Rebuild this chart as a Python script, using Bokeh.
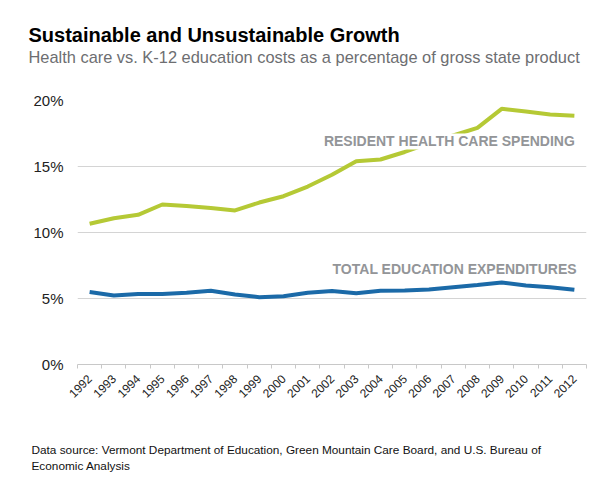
import numpy as np
from bokeh.plotting import figure
from bokeh.models import Range1d, FixedTicker, Label, Title
from bokeh.embed import file_html
from bokeh.resources import INLINE

years = [str(y) for y in range(1992, 2013)]
health = [10.66, 11.08, 11.34, 12.12, 12.0, 11.85, 11.67, 12.27, 12.75, 13.48, 14.37,
          15.4, 15.53, 16.1, 16.75, 17.35, 17.93, 19.37, 19.17, 18.94, 18.84]
education = [5.5, 5.23, 5.35, 5.35, 5.43, 5.58, 5.30, 5.1, 5.17, 5.43, 5.56,
             5.4, 5.58, 5.6, 5.68, 5.86, 6.03, 6.21, 5.98, 5.86, 5.66]
y_ticks = [0, 5, 10, 15, 20]
y_tick_labels = ["0%", "5%", "10%", "15%", "20%"]

FONT = "Liberation Sans"
GREEN = "#b5c935"
BLUE = "#1b6aa8"

xs = list(range(len(years)))

p = figure(width=603, height=494, output_backend="svg", toolbar_location=None,
           title="Sustainable and Unsustainable Growth",
           x_range=Range1d(-0.5, len(years) - 0.5), y_range=Range1d(0, 20),
           min_border_left=77, min_border_right=17, min_border_top=100,
           min_border_bottom=130)
p.outline_line_color = None
p.background_fill_color = "white"
p.border_fill_color = "white"

# main title (outermost)
p.title.text_font = FONT
p.title.text_font_size = "20px"
p.title.text_font_style = "bold"
p.title.text_color = "#000000"
p.title.align = "left"
p.title.offset = -49
p.title.standoff = 0

# spacer between plot and subtitle, then subtitle
p.add_layout(Title(text=" ", text_font=FONT, text_font_size="10px", standoff=22), "above")
p.add_layout(Title(text="Health care vs. K-12 education costs as a percentage of gross state product",
                   text_font=FONT, text_font_size="16.4px", text_font_style="normal",
                   text_color="#6d6e71", align="left", offset=-49, standoff=0), "above")

p.line(xs, health, line_color=GREEN, line_width=4)
p.line(xs, education, line_color=BLUE, line_width=4)

# axes
xt = FixedTicker(ticks=xs, minor_ticks=[i - 0.5 for i in range(len(years) + 1)])
p.xaxis.ticker = xt
p.xaxis.major_label_overrides = {i: y for i, y in enumerate(years)}
p.xaxis.major_label_orientation = np.pi / 4
p.xaxis.major_tick_line_color = None
p.xaxis.minor_tick_line_color = "#c8c8c8"
p.xaxis.minor_tick_out = 4
p.xaxis.minor_tick_in = 0
p.xaxis.axis_line_color = "#c8c8c8"
p.xaxis.major_label_text_font = FONT
p.xaxis.major_label_text_font_size = "12px"
p.xaxis.major_label_text_color = "#222222"
p.xaxis.major_label_standoff = 6

p.yaxis.ticker = FixedTicker(ticks=y_ticks)
p.yaxis.major_label_overrides = {t: l for t, l in zip(y_ticks, y_tick_labels)}
p.yaxis.axis_line_color = None
p.yaxis.major_tick_line_color = None
p.yaxis.major_tick_out = 0
p.yaxis.minor_tick_line_color = None
p.yaxis.major_label_text_font = FONT
p.yaxis.major_label_text_font_size = "15px"
p.yaxis.major_label_text_color = "#222222"
p.yaxis.major_label_standoff = 14

p.xgrid.grid_line_color = None
p.ygrid.ticker = FixedTicker(ticks=y_ticks[1:])
p.ygrid.grid_line_color = "#d4d4d4"
p.ygrid.grid_line_width = 1

# series labels
p.add_layout(Label(x=20.02, y=16.9, text="RESIDENT HEALTH CARE SPENDING",
                   text_font=FONT, text_font_style="bold", text_font_size="14px",
                   text_color="#939598", text_align="right", text_baseline="middle",
                   background_fill_color="white", background_fill_alpha=1.0))
p.add_layout(Label(x=20.1, y=7.27, text="TOTAL EDUCATION EXPENDITURES",
                   text_font=FONT, text_font_style="bold", text_font_size="14px",
                   text_color="#939598", text_align="right", text_baseline="middle"))

# spacer below the axis, then the two source lines
p.add_layout(Title(text=" ", text_font=FONT, text_font_size="10px", standoff=23), "below")
p.add_layout(Title(text="Data source: Vermont Department of Education, Green Mountain Care Board, and U.S. Bureau of",
                   text_font=FONT, text_font_size="11.8px", text_font_style="normal",
                   text_color="#111111", align="left", offset=-46, standoff=0), "below")
p.add_layout(Title(text="Economic Analysis",
                   text_font=FONT, text_font_size="11.8px", text_font_style="normal",
                   text_color="#111111", align="left", offset=-46, standoff=0), "below")

open("out.html", "w").write(file_html(p, INLINE))
